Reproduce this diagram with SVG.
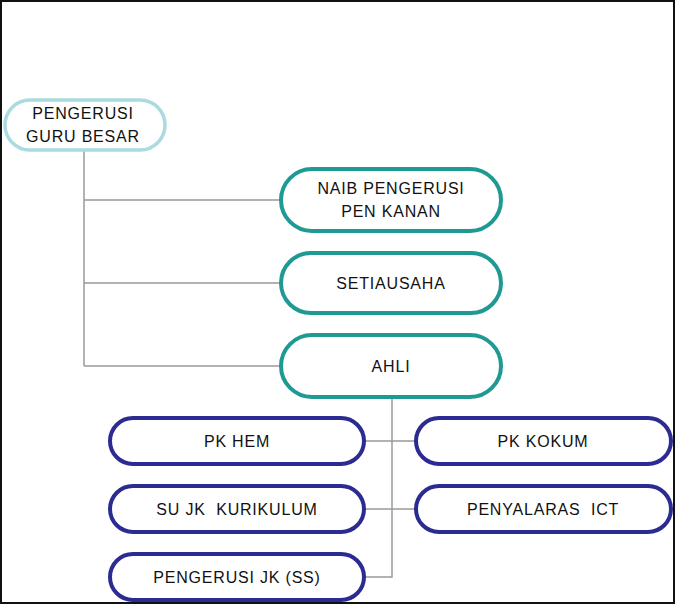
<svg xmlns="http://www.w3.org/2000/svg" width="676" height="605" viewBox="0 0 676 605">
<style>
.t{font-family:"Liberation Sans",Arial,sans-serif;font-size:16px;fill:#111;text-anchor:middle;letter-spacing:0.8px;white-space:pre}
.lb{fill:#fff;stroke:#a9dbe0;stroke-width:3.5}
.tl{fill:#fff;stroke:#1f9a93;stroke-width:4}
.nv{fill:#fff;stroke:#2b2b92;stroke-width:4}
.c{stroke:#999;stroke-width:1.5;fill:none}
</style>
<rect x="0" y="0" width="676" height="605" fill="#fff"/>
<rect x="1" y="1" width="673" height="602" fill="none" stroke="#111" stroke-width="2"/>
<g id="connectors">
<path class="c" d="M84 150V366M84 200H280M84 283H280M84 366H280"/>
<path class="c" d="M392 397V577H364M364 441H416M364 509H416"/>
</g>
<g id="pengerusi"><rect class="lb" x="5" y="100" width="160" height="50" rx="25"/>
<text class="t" x="83" y="119">PENGERUSI</text><text class="t" x="83" y="142">GURU BESAR</text></g>
<g id="naib"><rect class="tl" x="281" y="169" width="220" height="62" rx="31"/>
<text class="t" x="391" y="194">NAIB PENGERUSI</text><text class="t" x="391" y="217">PEN KANAN</text></g>
<g id="setiausaha"><rect class="tl" x="281" y="253" width="220" height="60" rx="30"/>
<text class="t" x="391" y="289">SETIAUSAHA</text></g>
<g id="ahli"><rect class="tl" x="281" y="335" width="220" height="62" rx="31"/>
<text class="t" x="391" y="372">AHLI</text></g>
<g id="pkhem"><rect class="nv" x="110" y="418" width="254" height="46" rx="23"/>
<text class="t" x="237" y="447">PK HEM</text></g>
<g id="pkkokum"><rect class="nv" x="416" y="418" width="255" height="46" rx="23"/>
<text class="t" x="543" y="447">PK KOKUM</text></g>
<g id="sujk"><rect class="nv" x="110" y="486" width="254" height="46" rx="23"/>
<text class="t" x="237" y="515" xml:space="preserve">SU JK  KURIKULUM</text></g>
<g id="penyalaras"><rect class="nv" x="416" y="486" width="255" height="46" rx="23"/>
<text class="t" x="543" y="515" xml:space="preserve">PENYALARAS  ICT</text></g>
<g id="pengerusijk"><rect class="nv" x="110" y="554" width="254" height="46" rx="23"/>
<text class="t" x="237" y="583">PENGERUSI JK (SS)</text></g>
</svg>
